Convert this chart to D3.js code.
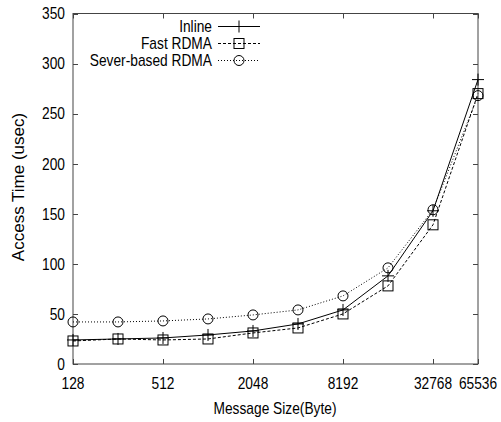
<!DOCTYPE html>
<html>
<head>
<meta charset="utf-8">
<script src="https://cdn.jsdelivr.net/npm/d3@7/dist/d3.min.js"></script>
<style>
  html, body { margin: 0; padding: 0; background: #fff; }
  svg { display: block; }
  text { font-family: "Liberation Sans", Arial, Helvetica, sans-serif; fill: #000; }
</style>
</head>
<body>
<svg id="chart" width="501" height="422"></svg>
<script>
// Message sizes (bytes) and measured access times (usec)
const sizes = [128, 256, 512, 1024, 2048, 4096, 8192, 16384, 32768, 65536];
const inlineTimes = [24, 25, 26, 29, 33, 40, 54, 88, 153, 284];
const fastRdmaTimes = [23, 25, 24, 25, 31, 36, 50, 78, 139, 270];
const severRdmaTimes = [42, 42, 43, 45, 49, 54, 68, 96, 154, 268];

const seriesNames = ["Inline", "Fast RDMA", "Sever-based RDMA"];
const xTicks = [128, 512, 2048, 8192, 32768, 65536];
const yTicks = [0, 50, 100, 150, 200, 250, 300, 350];

const svg = d3.select("#chart");
const plotLeft = 73, plotRight = 478, plotTop = 13.5, plotBottom = 364;

const x = d3.scaleLog().base(2).domain([128, 65536]).range([plotLeft, plotRight]);
const y = d3.scaleLinear().domain([0, 350]).range([plotBottom, plotTop]);

// Slightly condensed sans text
const FONT = 16, SX = 0.86;
function label(g, tx, ty, str, anchor) {
  return g.append("text")
    .attr("transform", `translate(${tx},${ty}) scale(${SX},1)`)
    .attr("text-anchor", anchor)
    .attr("font-size", FONT)
    .text(str);
}

// Frame
svg.append("rect")
  .attr("x", plotLeft).attr("y", plotTop)
  .attr("width", plotRight - plotLeft).attr("height", plotBottom - plotTop)
  .attr("fill", "none").attr("stroke", "#444").attr("stroke-width", 1);

// Axes with inward ticks, mirrored on the opposite side
const axisG = svg.append("g").attr("stroke", "#444");
const tickLen = 5;
xTicks.forEach(v => {
  const px = Math.round(x(v)) + 0.5;
  axisG.append("line").attr("x1", px).attr("x2", px).attr("y1", plotBottom).attr("y2", plotBottom - tickLen);
  axisG.append("line").attr("x1", px).attr("x2", px).attr("y1", plotTop).attr("y2", plotTop + tickLen);
});
yTicks.forEach(v => {
  const py = Math.round(y(v)) + 0.5;
  axisG.append("line").attr("x1", plotLeft).attr("x2", plotLeft + tickLen).attr("y1", py).attr("y2", py);
  axisG.append("line").attr("x1", plotRight).attr("x2", plotRight - tickLen).attr("y1", py).attr("y2", py);
});

const labels = svg.append("g");
xTicks.forEach(v => label(labels, x(v), 388.5, String(v), "middle"));
yTicks.forEach(v => label(labels, 65, y(v) + 5.8, String(v), "end"));

// Axis titles
label(labels, 275, 413.5, "Message Size(Byte)", "middle");
svg.append("text")
  .attr("transform", "translate(23.5,187) rotate(-90)")
  .attr("text-anchor", "middle")
  .attr("font-size", 17)
  .text("Access Time (usec)");

// Series
const series = [
  { name: seriesNames[0], values: inlineTimes, dash: null, marker: "plus" },
  { name: seriesNames[1], values: fastRdmaTimes, dash: "3,2", marker: "square" },
  { name: seriesNames[2], values: severRdmaTimes, dash: "1,2", marker: "circle" }
];

const line = d3.line().x(d => x(d[0])).y(d => y(d[1]));

function drawMarker(g, type, cx, cy) {
  if (type === "plus") {
    g.append("path")
      .attr("d", `M${cx - 6},${cy}H${cx + 6}M${cx},${cy - 6}V${cy + 6}`)
      .attr("stroke", "#000").attr("stroke-width", 1).attr("fill", "none");
  } else if (type === "square") {
    g.append("rect")
      .attr("x", cx - 5).attr("y", cy - 5).attr("width", 10).attr("height", 10)
      .attr("stroke", "#000").attr("stroke-width", 1).attr("fill", "none");
  } else {
    g.append("circle")
      .attr("cx", cx).attr("cy", cy).attr("r", 5)
      .attr("stroke", "#000").attr("stroke-width", 1).attr("fill", "none");
  }
}

const plot = svg.append("g");
series.slice().reverse().forEach(s => {
  const pts = sizes.map((v, i) => [v, s.values[i]]);
  plot.append("path")
    .datum(pts)
    .attr("d", line)
    .attr("fill", "none")
    .attr("stroke", "#000")
    .attr("stroke-width", 1)
    .attr("stroke-dasharray", s.dash);
  pts.forEach(p => drawMarker(plot, s.marker, x(p[0]), y(p[1])));
});

// Legend
const legend = svg.append("g");
const legendRows = [26, 43, 60];
series.forEach((s, i) => {
  const ly = legendRows[i];
  label(legend, 212, ly + 5.8, s.name, "end");
  legend.append("line")
    .attr("x1", 218).attr("x2", 260).attr("y1", ly + 0.5).attr("y2", ly + 0.5)
    .attr("stroke", "#000").attr("stroke-width", 1)
    .attr("stroke-dasharray", s.dash);
  drawMarker(legend, s.marker, 239, ly + 0.5);
});
</script>
</body>
</html>
